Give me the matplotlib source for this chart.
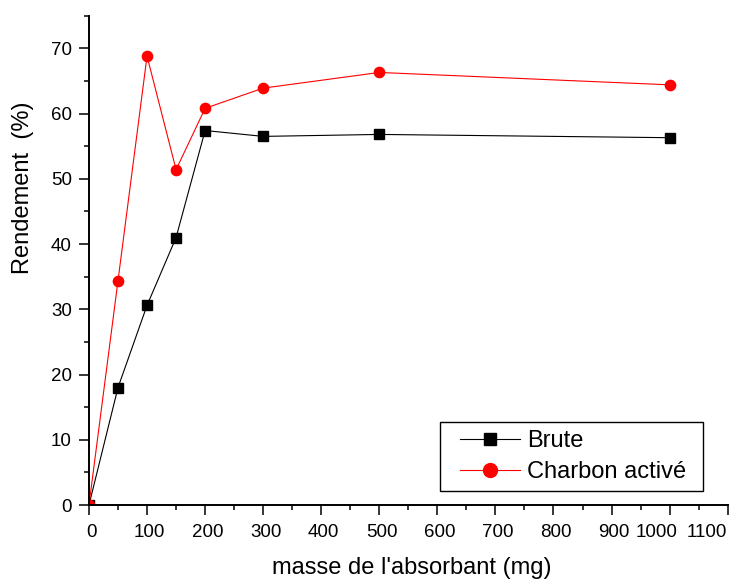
import matplotlib
matplotlib.use("Agg")
import matplotlib.pyplot as plt
import matplotlib.transforms as mtransforms
from matplotlib.patches import Rectangle
from matplotlib.ticker import MultipleLocator

# masse de l'absorbant (mg)
masse = [0, 50, 100, 150, 200, 300, 500, 1000]
# rendement (%)
brute = [0, 18.0, 30.6, 41.0, 57.4, 56.5, 56.8, 56.3]
charbon = [0, 34.4, 68.8, 51.4, 60.8, 63.9, 66.3, 64.4]

plt.rcParams['font.family'] = ['Liberation Sans', 'DejaVu Sans']

fig = plt.figure(figsize=(7.39, 5.79), dpi=100)
ax = fig.add_axes([0.1204, 0.1278, 0.8643, 0.8451])

ax.plot(masse, brute, color='black', lw=0.8, marker='s', ms=6.7,
        mec='black', label='Brute')
ax.plot(masse, charbon, color='red', lw=0.8, marker='o', ms=7.4,
        mec='red', label='Charbon activé')

ax.set_xlim(0, 1100)
ax.set_ylim(0, 75)
ax.xaxis.set_major_locator(MultipleLocator(100))
ax.xaxis.set_minor_locator(MultipleLocator(50))
ax.yaxis.set_major_locator(MultipleLocator(10))
ax.yaxis.set_minor_locator(MultipleLocator(5))

for side in ('top', 'right'):
    ax.spines[side].set_visible(False)
for side in ('left', 'bottom'):
    ax.spines[side].set_linewidth(1.4)

ax.tick_params(which='major', direction='out', length=7.2, width=1.1,
               labelsize=13.5)
ax.tick_params(which='minor', direction='out', length=3.6, width=1.1)
ax.tick_params(axis='x', which='major', pad=6.6)
ax.tick_params(axis='y', which='major', pad=5.2)

# x tick labels: small right shift, last two pushed left as in the original
fig.canvas.draw()
shifts = {1000: -13, 1100: -21}
for val, lab in zip(ax.get_xticks(), ax.get_xticklabels()):
    dx = shifts.get(int(round(val)), 2.5)
    lab.set_transform(lab.get_transform() +
                      mtransforms.ScaledTranslation(dx / 100, 0, fig.dpi_scale_trans))

ax.set_xlabel("masse de l'absorbant (mg)", fontsize=17)
ax.set_ylabel("Rendement  (%)", fontsize=17)
ax.xaxis.set_label_coords(0.5047, -0.1056)
ax.yaxis.set_label_coords(-0.0858, 0.648)

# legend box drawn separately so its padding matches the original
frame = Rectangle((0.5496, 0.0292), 0.4113, 0.141, transform=ax.transAxes,
                  facecolor='white', edgecolor='black', lw=1.0, zorder=4)
ax.add_patch(frame)
leg = ax.legend(loc='center left', bbox_to_anchor=(0.5809, 0.0987),
                borderaxespad=0, borderpad=0, frameon=False, fontsize=17,
                markerscale=1.35, handlelength=2.54, handletextpad=0.3,
                labelspacing=0.36)
leg.set_zorder(5)

fig.savefig('out.png', dpi=100)
